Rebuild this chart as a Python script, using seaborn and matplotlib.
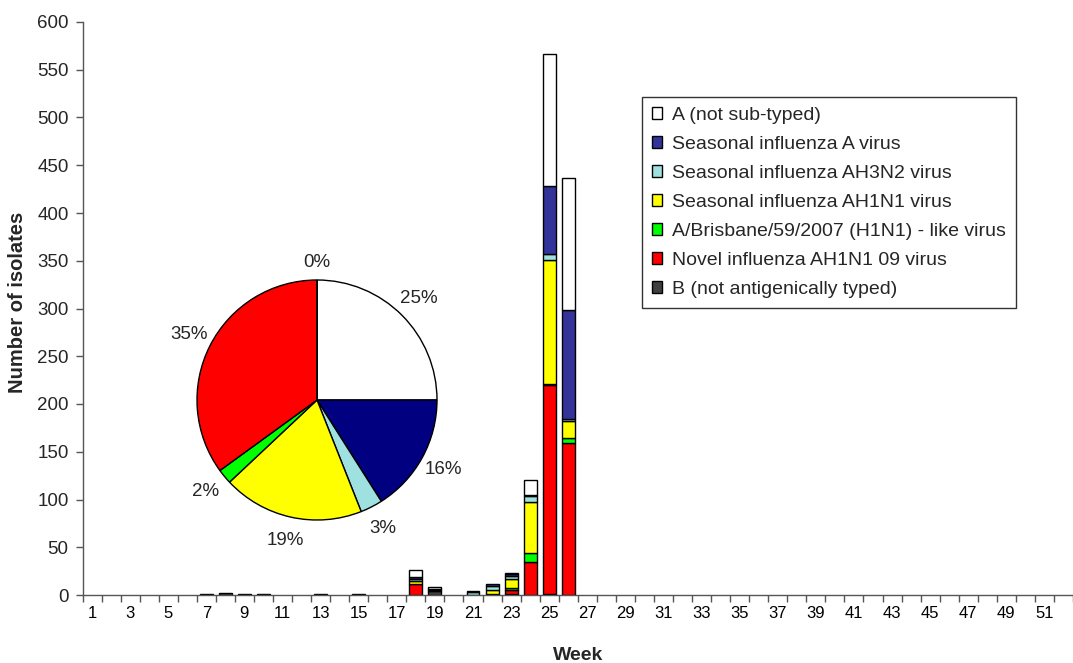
import numpy as np
import pandas as pd
import matplotlib
matplotlib.use("Agg")
import matplotlib.pyplot as plt
import seaborn as sns
from matplotlib.patches import Patch

# Weekly isolates by virus type (only weeks with reports)
weeks = [7, 8, 9, 10, 13, 15, 18, 19, 21, 22, 23, 24, 25, 26]
a_not_subtyped = [0, 0, 0, 0, 0, 0, 7, 2, 0, 0, 1, 15, 138, 139]
seasonal_a = [0, 0, 0, 0, 0, 0, 2, 0, 1, 2, 2, 1, 71, 114]
seasonal_ah3n2 = [0, 0, 0, 0, 0, 0, 2, 0, 3, 4, 3, 7, 6, 2]
seasonal_ah1n1 = [0, 0, 0, 0, 0, 0, 4, 1, 0, 4, 10, 53, 130, 18]
brisbane_like = [0, 0, 0, 0, 0, 0, 0, 1, 0, 0, 2, 9, 1, 5]
novel_ah1n1 = [0, 0, 0, 0, 0, 0, 11, 0, 0, 0, 4, 35, 219, 159]
b_not_typed = [1, 2, 1, 1, 1, 1, 0, 4, 0, 1, 1, 0, 1, 0]

series_names = ["A (not sub-typed)", "Seasonal influenza A virus",
                "Seasonal influenza AH3N2 virus", "Seasonal influenza AH1N1 virus",
                "A/Brisbane/59/2007 (H1N1) - like virus",
                "Novel influenza AH1N1 09 virus", "B (not antigenically typed)"]
bar_colors = ["#FFFFFF", "#333399", "#9FE0E0", "#FFFF00", "#00FF00", "#FF0000", "#404040"]

# Pie chart shares (%), same order as the series
pie_pct = [25, 16, 3, 19, 2, 35, 0]
pie_colors = ["#FFFFFF", "#000080", "#9FE0E0", "#FFFF00", "#00FF00", "#FF0000", "#404040"]

x_tick_weeks = list(range(1, 52, 2))

sns.set_style("white")
plt.rcParams['font.family'] = ['Liberation Sans', 'DejaVu Sans']

# long table for seaborn
cols = [a_not_subtyped, seasonal_a, seasonal_ah3n2, seasonal_ah1n1,
        brisbane_like, novel_ah1n1, b_not_typed]
rows = []
for name, vals in zip(series_names, cols):
    for w, v in zip(weeks, vals):
        rows.append({"week": w, "type": name, "count": v})
df = pd.DataFrame(rows)

fig = plt.figure(figsize=(10.73, 6.63), dpi=100)
ax = fig.add_axes([82.5 / 1073, 68 / 663, 990.5 / 1073, 573 / 663])

sns.histplot(data=df, x="week", weights="count", hue="type", hue_order=series_names,
             multiple="stack", discrete=True, shrink=0.68,
             palette=dict(zip(series_names, bar_colors)),
             edgecolor="black", linewidth=1, alpha=1, legend=False, ax=ax)

# hide empty segments
for p in ax.patches:
    if p.get_height() == 0:
        p.set_visible(False)

ax.set_xlim(0.5, 0.5 + 990.5 / 19.18)
ax.set_ylim(0, 600)
ax.set_yticks(np.arange(0, 601, 50))
ax.set_xticks(x_tick_weeks)
ax.set_xticklabels([str(w) for w in x_tick_weeks])
ax.set_xticks(np.arange(0.5, 53, 1), minor=True)
ax.tick_params(axis="x", which="major", length=0, pad=8, labelsize=12, colors="black")
ax.tick_params(axis="x", which="minor", length=5, width=1, color="#555555", direction="out", bottom=True)
ax.tick_params(axis="y", length=5, width=1, color="#555555", direction="out", left=True,
               pad=5, labelsize=13.5)

for s in ["top", "right"]:
    ax.spines[s].set_visible(False)
for s in ["left", "bottom"]:
    ax.spines[s].set_color("#555555")
    ax.spines[s].set_linewidth(1)

ax.set_xlabel("Week", fontsize=14, fontweight="bold", labelpad=19)
ax.set_ylabel("Number of isolates", fontsize=14.5, fontweight="bold", labelpad=7)
ax.yaxis.label.set_y(0.51)

handles = [Patch(facecolor=c, edgecolor="black", linewidth=1) for c in bar_colors]
leg = fig.legend(handles, series_names, loc="upper left",
                 bbox_to_anchor=(642 / 1073, 1 - 97 / 663), bbox_transform=fig.transFigure,
                 fontsize=14, frameon=True, fancybox=False, borderaxespad=0,
                 handlelength=0.55, handleheight=0.55, handletextpad=0.5,
                 labelspacing=0.62, borderpad=0.5)
leg.get_frame().set_edgecolor("black")
leg.get_frame().set_linewidth(1)

# inset pie
pax = fig.add_axes([197 / 1073, 143 / 663, 240 / 1073, 240 / 663])
wedges, texts = pax.pie(pie_pct, colors=pie_colors, startangle=90, counterclock=False,
                        labels=[f"{v}%" for v in pie_pct], labeldistance=1.2,
                        wedgeprops=dict(edgecolor="black", linewidth=1),
                        textprops=dict(fontsize=13.5))
for t in texts:
    t.set_ha("center")
    t.set_va("center")
# the empty slice label sits a little closer to the pie
texts[-1].set_position((0, 1.15))
for w in wedges:
    w.set_clip_on(False)
pax.set_xlim(-1, 1)
pax.set_ylim(-1, 1)
pax.set_aspect("equal")

fig.savefig("out.png", dpi=100)
